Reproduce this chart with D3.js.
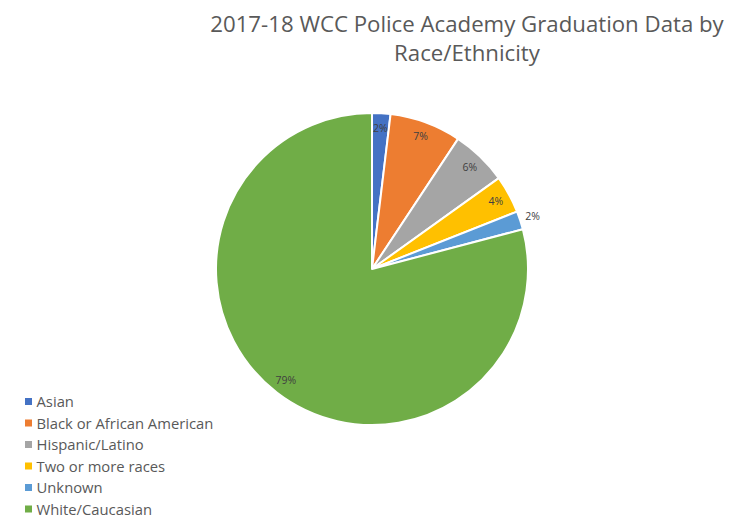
<!DOCTYPE html>
<html>
<head>
<meta charset="utf-8">
<script src="https://cdn.jsdelivr.net/npm/d3@7"></script>
<style>
  body { margin: 0; background: #fff; }
  svg { display: block; font-family: "Open Sans", "Noto Sans", sans-serif; }
</style>
</head>
<body>
<svg id="chart" width="743" height="532"></svg>
<script>
// data (percent of graduates, slice angles estimated)
var categories = ["Asian", "Black or African American", "Hispanic/Latino", "Two or more races", "Unknown", "White/Caucasian"]
var shares = [1.9, 7.4, 5.8, 3.9, 1.9, 79.1]
var colors = ["#4472C4", "#ED7D31", "#A5A5A5", "#FFC000", "#5B9BD5", "#70AD47"]
var titleLines = ["2017-18 WCC Police Academy Graduation Data by", "Race/Ethnicity"]
var outsideLabels = ["Unknown"]

var svg = d3.select("#chart")
var cx = 372, cy = 269, radius = 156

// title, sized so the first line spans the same width as the reference
var title = svg.append("g").attr("fill", "#595959")
var t1 = title.append("text").attr("x", 467).attr("y", 32).attr("text-anchor", "middle")
  .style("font-size", "24px").text(titleLines[0])
var w = t1.node().getComputedTextLength()
var fs = 24 * 514 / w
t1.style("font-size", fs + "px")
title.append("text").attr("x", 467).attr("y", 61).attr("text-anchor", "middle")
  .style("font-size", fs + "px").text(titleLines[1])

// pie
var data = categories.map(function(c, i){ return {name: c, value: shares[i], color: colors[i]} })
var pie = d3.pie().sort(null).value(function(d){ return d.value })
var arcs = pie(data)
var total = d3.sum(shares)
var arc = d3.arc().innerRadius(0).outerRadius(radius)
var inLabel = d3.arc().innerRadius(141).outerRadius(141)
var outLabel = d3.arc().innerRadius(169).outerRadius(169)

var g = svg.append("g").attr("transform", "translate(" + cx + "," + cy + ")")
g.selectAll("path.slice").data(arcs).enter().append("path")
  .attr("class", "slice")
  .attr("d", arc)
  .attr("fill", function(d){ return d.data.color })
  .attr("stroke", "#fff")
  .attr("stroke-width", 2)
  .attr("stroke-linejoin", "round")

g.selectAll("text.lbl").data(arcs).enter().append("text")
  .attr("class", "lbl")
  .attr("transform", function(d){
    var a = outsideLabels.indexOf(d.data.name) >= 0 ? outLabel : inLabel
    return "translate(" + a.centroid(d) + ")"
  })
  .attr("text-anchor", "middle")
  .attr("dy", "0.35em")
  .attr("fill", "#404040")
  .style("font-size", "10.5px")
  .text(function(d){ return Math.round(d.data.value / total * 100) + "%" })

// legend
var legend = svg.append("g").attr("transform", "translate(25,402)")
var row = legend.selectAll("g").data(data).enter().append("g")
  .attr("transform", function(d, i){ return "translate(0," + (i * 21.5) + ")" })
row.append("rect").attr("x", 0).attr("y", -4).attr("width", 7).attr("height", 7)
  .attr("fill", function(d){ return d.color })
row.append("text").attr("x", 11.5).attr("dy", "0.35em")
  .attr("fill", "#595959").style("font-size", "14.8px")
  .text(function(d){ return d.name })
</script>
</body>
</html>
